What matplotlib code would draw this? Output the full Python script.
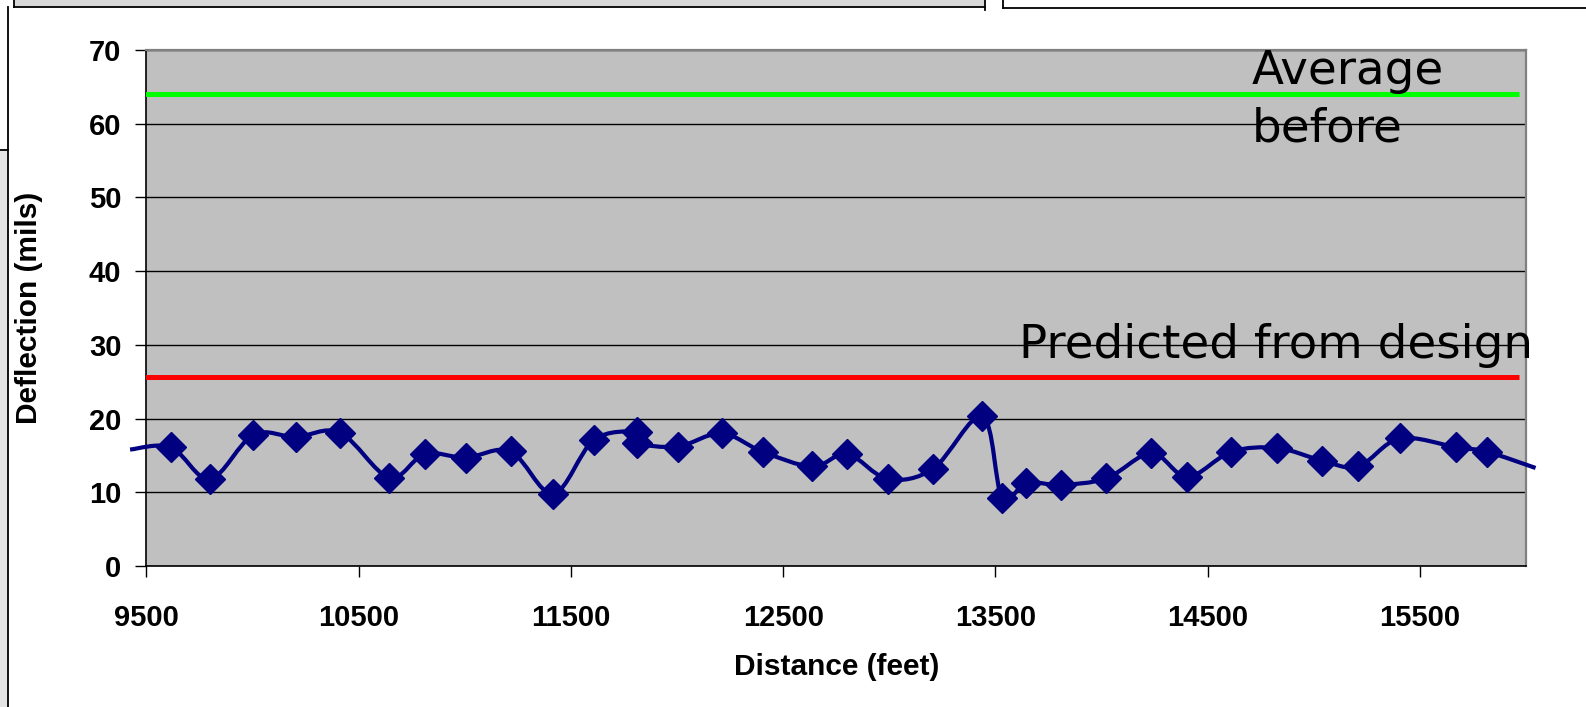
import numpy as np
import matplotlib
matplotlib.use("Agg")
import matplotlib.pyplot as plt
from matplotlib.path import Path
from matplotlib.patches import PathPatch, Rectangle
from matplotlib.lines import Line2D

# ---------------- data ----------------
distance = [9616, 9800, 10004, 10203, 10412, 10644, 10812, 11005, 11216, 11417,
            11608, 11810, 11810, 12003, 12210, 12403, 12638, 12802, 12993, 13207,
            13439, 13532, 13646, 13808, 14023, 14235, 14405, 14612, 14829, 15039,
            15209, 15405, 15672, 15816]
deflection = [16.1, 11.8, 17.8, 17.5, 18.1, 12.0, 15.2, 14.7, 15.55, 9.8,
              17.1, 18.2, 16.7, 16.2, 18.0, 15.5, 13.5, 15.2, 11.8, 13.2,
              20.3, 9.2, 11.3, 11.0, 11.9, 15.3, 12.1, 15.5, 16.0, 14.3,
              13.5, 17.3, 16.1, 15.5]
# line continues past the plot edges (neighbouring readings outside the range)
lead_in = (9423, 15.8)
lead_out = (16045, 13.3)

average_before = 64.0
predicted_design = 25.7
ref_line_span = [9490, 15968]

x_ticks = [9500, 10500, 11500, 12500, 13500, 14500, 15500]
y_ticks = [0, 10, 20, 30, 40, 50, 60, 70]
x_label = "Distance (feet)"
y_label = "Deflection (mils)"
label_avg = ["Average", "before"]
label_pred = "Predicted from design"

# ---------------- figure ----------------
W, H = 1586, 707
fig = plt.figure(figsize=(W / 100, H / 100), dpi=100)
fig.patch.set_facecolor("white")

def fx(px):
    return px / W

def fy(py):
    return 1 - py / H

# slide decoration (edges of surrounding boxes)
fig.patches.append(Rectangle((fx(0), fy(707)), fx(8), fy(150) - fy(707),
                             transform=fig.transFigure, facecolor="#e4e4e4",
                             edgecolor="none", zorder=0))
fig.patches.append(Rectangle((fx(14), fy(7)), fx(985) - fx(14), fy(0) - fy(7),
                             transform=fig.transFigure, facecolor="#d8d8d8",
                             edgecolor="none", zorder=0))
for (x0, y0, x1, y1) in [(8, 7, 8, 707), (0, 150, 8, 150), (14, 7, 985, 7),
                         (14, 0, 14, 7), (985, 0, 985, 10), (1003, 0, 1003, 8),
                         (1003, 8, 1586, 8)]:
    fig.lines.append(Line2D([fx(x0), fx(x1)], [fy(y0), fy(y1)],
                            transform=fig.transFigure, color="black", lw=1.3))

ax = fig.add_axes([fx(146.4), fy(566), fx(1526) - fx(146.4), fy(50) - fy(566)])
ax.set_facecolor("#c0c0c0")
ax.set_xlim(9500, 16000)
ax.set_ylim(0, 70)
ax.set_xticks(x_ticks)
ax.set_yticks(y_ticks)
ax.set_axisbelow(True)
ax.yaxis.grid(True, color="black", lw=1.0)
ax.xaxis.grid(False)

for s in ["top", "right"]:
    ax.spines[s].set_color("#808080")
    ax.spines[s].set_linewidth(1.6)
for s in ["left", "bottom"]:
    ax.spines[s].set_color("black")
    ax.spines[s].set_linewidth(1.2)

ax.tick_params(axis="both", direction="out", length=8, width=1.0, color="black",
               labelsize=21, pad=10)
ax.tick_params(axis="x", pad=19)
for lab in ax.get_xticklabels() + ax.get_yticklabels():
    lab.set_fontfamily("Liberation Sans")
    lab.set_fontweight("bold")

ax.set_xlabel(x_label, fontfamily="Liberation Sans", fontweight="bold",
              fontsize=21.5, va="center")
ax.set_ylabel(y_label, fontfamily="Liberation Sans", fontweight="bold",
              fontsize=21.5, va="center")
ax.xaxis.set_label_coords(0.5, (566 - 667) / 516)
ax.yaxis.set_label_coords((28.5 - 146.4) / 1379.6, 0.5)

# reference lines
ax.plot(ref_line_span, [average_before] * 2, color="#00ff00", lw=3.6, zorder=3,
        solid_capstyle="butt")
ax.plot(ref_line_span, [predicted_design] * 2, color="#ff0000", lw=3.6, zorder=3,
        solid_capstyle="butt")

# smoothed series line (Catmull-Rom style Bezier, like a spreadsheet "smoothed line")
px = [lead_in[0]] + distance + [lead_out[0]]
py = [lead_in[1]] + deflection + [lead_out[1]]
P = np.column_stack([px, py]).astype(float)
verts = [tuple(P[0])]
codes = [Path.MOVETO]
n = len(P)
for i in range(n - 1):
    p0 = P[i - 1] if i > 0 else P[i]
    p1 = P[i]
    p2 = P[i + 1]
    p3 = P[i + 2] if i + 2 < n else P[i + 1]
    c1 = p1 + (p2 - p0) / 6.0
    c2 = p2 - (p3 - p1) / 6.0
    verts += [tuple(c1), tuple(c2), tuple(p2)]
    codes += [Path.CURVE4] * 3
patch = PathPatch(Path(verts, codes), facecolor="none", edgecolor="#000080",
                  lw=3.0, zorder=4, clip_on=False, capstyle="butt")
ax.add_patch(patch)

ax.plot(distance, deflection, linestyle="none", marker="D", markersize=15.5,
        markerfacecolor="#000080", markeredgecolor="#000080", zorder=5,
        clip_on=False)

# annotations
ann_font = dict(family="DejaVu Sans", weight="normal", size=33.7, color="black")
fig.text(fx(1252), fy(84), label_avg[0], ha="left", va="baseline", **ann_font)
fig.text(fx(1252), fy(141), label_avg[1], ha="left", va="baseline", **ann_font)
fig.text(fx(1019), fy(358), label_pred, ha="left", va="baseline", **ann_font)

fig.savefig("out.png", dpi=100)
